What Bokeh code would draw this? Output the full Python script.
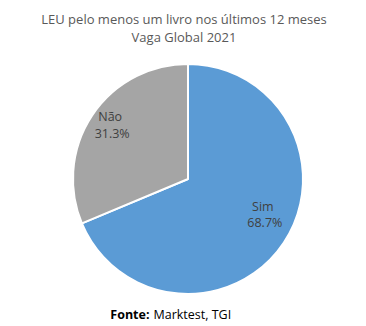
import math
from bokeh.plotting import figure
from bokeh.models import Range1d, ColumnDataSource
from bokeh.core.properties import value
from bokeh.embed import file_html
from bokeh.resources import INLINE

# ---- data ----
categories = ["Sim", "Não"]
shares = [68.7, 31.3]
colors = ["#5B9BD5", "#A5A5A5"]
title_lines = ["LEU pelo menos um livro nos últimos 12 meses", "Vaga Global 2021"]
source_bold = "Fonte:"
source_text = "Marktest, TGI"

W, H = 366, 326
p = figure(width=W, height=H, output_backend="svg", toolbar_location=None,
           x_range=Range1d(0, W), y_range=Range1d(0, H), min_border=0)
p.axis.visible = False
p.grid.visible = False
p.outline_line_color = None
p.background_fill_color = "white"
p.border_fill_color = "white"

cx, cy, R = 187.5, H - 178.5, 115

total = sum(shares)
starts, ends, mids = [], [], []
acc = 0.0
for s in shares:
    a0 = math.pi / 2 - 2 * math.pi * acc / total
    a1 = math.pi / 2 - 2 * math.pi * (acc + s) / total
    starts.append(a0); ends.append(a1); mids.append((a0 + a1) / 2)
    acc += s

src = ColumnDataSource(dict(start=starts, end=ends, color=colors))
p.wedge(x=cx, y=cy, radius=R, start_angle="start", end_angle="end",
        direction="clock", fill_color="color", line_color="white", line_width=2,
        source=src)

# labels
nudges = [(6, 12), (-5, 7)]
lab_r = 0.74 * R
font = value("Open Sans")
for cat, s, m, (dx, dy) in zip(categories, shares, mids, nudges):
    lx = cx + lab_r * math.cos(m) + dx
    ly = cy + lab_r * math.sin(m) + dy
    p.text(x=[lx - 2], y=[ly + 8], text=[cat], text_font=font, text_font_size="12.5px",
           text_color="#404040", text_align="center", text_baseline="middle")
    p.text(x=[lx], y=[ly - 8.5], text=[f"{s:.1f}%"], text_font=font, text_font_size="12.5px",
           text_color="#404040", text_align="center", text_baseline="middle")

# title
for i, t in enumerate(title_lines):
    p.text(x=[W / 2 + 0.5], y=[H - 18 - 18 * i], text=[t], text_font=font,
           text_font_size="13px", text_color="#595959", text_align="center",
           text_baseline="middle")

# source
p.text(x=[149], y=[H - 314], text=[source_bold], text_font=font, text_font_size="12.5px",
       text_font_style="bold", text_color="#000000", text_align="right", text_baseline="middle")
p.text(x=[153], y=[H - 314], text=[source_text], text_font=font, text_font_size="12.5px",
       text_color="#000000", text_align="left", text_baseline="middle")

open("out.html", "w").write(file_html(p, INLINE))
